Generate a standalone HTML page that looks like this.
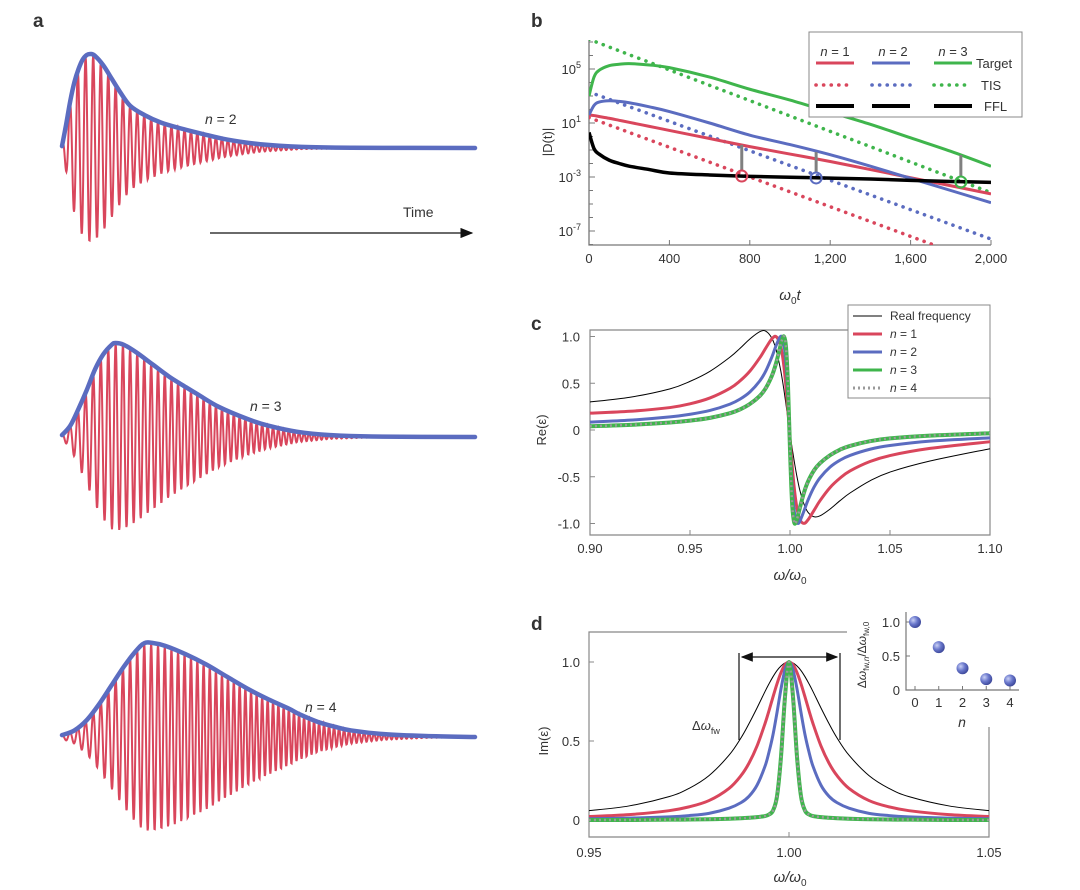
<!DOCTYPE html>
<html><head><meta charset="utf-8"><style>
html,body{margin:0;padding:0;background:#fff;}
svg{display:block;font-family:"Liberation Sans",sans-serif;}
text{fill:#333;}
</style></head><body>
<svg id="fig" width="1080" height="890" viewBox="0 0 1080 890" xmlns="http://www.w3.org/2000/svg">
<defs>
<clipPath id="clipB"><rect x="589" y="40" width="402" height="205"/></clipPath>
<radialGradient id="ball" cx="0.35" cy="0.35" r="0.7"><stop offset="0" stop-color="#c9d0f5"/><stop offset="0.5" stop-color="#6a78cc"/><stop offset="1" stop-color="#3a4597"/></radialGradient>
<marker id="arr" markerWidth="10" markerHeight="8" refX="9" refY="4" orient="auto"><path d="M0,0 L10,4 L0,8 Z" fill="#111"/></marker>
<marker id="arr2" markerWidth="10" markerHeight="8" refX="9" refY="4" orient="auto-start-reverse"><path d="M0,0 L10,4 L0,8 Z" fill="#111"/></marker>
</defs>
<g font-weight="bold" font-size="19">
<text x="33" y="27" fill="#111">a</text>
<text x="531" y="27" fill="#111">b</text>
<text x="531" y="330" fill="#111">c</text>
<text x="531" y="630" fill="#111">d</text>
</g>
<g>
<line x1="210" y1="233" x2="472" y2="233" stroke="#111" stroke-width="1.3" marker-end="url(#arr)"/>
<text x="403" y="217" font-size="14">Time</text>
<text x="205" y="124" font-size="14"><tspan font-style="italic">n</tspan> = 2</text>
<text x="250" y="411" font-size="14"><tspan font-style="italic">n</tspan> = 3</text>
<text x="305" y="712" font-size="14"><tspan font-style="italic">n</tspan> = 4</text>
<g id="aG"></g>
</g>
<g><g id="bG"></g></g>
<g><g id="cG"></g></g>
<g><g id="dG"></g></g>
</svg>
<script>
// ---------- Panel a data ----------
const aRow1T=[0,1,2,3,4,5,6,7,8,10,12,14,16.5,20,24,28.6,34,40,48,58,70,100];
const aRow1Env=[0.02,0.25,0.5,0.7,0.84,0.94,0.99,1.0,0.98,0.88,0.74,0.6,0.45,0.35,0.27,0.21,0.15,0.09,0.04,0.012,0.003,0];
const aRow2T=[0,2,4,6,8,10,12,13,15,18,22,26,30,33,38,45,50,57,65,75,100];
const aRow2Env=[0.02,0.12,0.3,0.5,0.72,0.88,0.98,1.0,0.98,0.9,0.77,0.64,0.53,0.45,0.32,0.19,0.12,0.055,0.02,0.005,0];
const aRow3T=[0,3,6,9,12,15,18,20,22,25,30,35,40,45.5,50,55,57.6,62,66,70,78,88,100];
const aRow3Env=[0.02,0.07,0.18,0.35,0.55,0.75,0.92,1.0,1.0,0.97,0.88,0.77,0.64,0.5,0.4,0.3,0.24,0.16,0.11,0.07,0.03,0.01,0];
// ---------- Panel b data ----------
const bT=[0,25,50,100,150,200,300,400,600,800,1000,1200,1400,1600,1800,2000];
const bTarget1=[1.6,1.55,1.48,1.35,1.2,1.05,0.75,0.45,-0.15,-0.75,-1.3,-1.85,-2.45,-3.05,-3.65,-4.25];
const bTarget2=[1.6,2.3,2.55,2.65,2.6,2.5,2.2,1.85,1.0,0.1,-0.6,-1.35,-2.2,-3.1,-4.0,-4.9];
const bTarget3=[3.0,4.4,4.9,5.25,5.35,5.4,5.3,5.1,4.4,3.5,2.7,1.8,0.9,-0.1,-1.1,-2.2];
const bTIS1=[1.4,1.26,1.13,0.85,0.58,0.3,-0.25,-0.8,-1.9,-3.0,-4.1,-5.2,-6.3,-7.4,-8.5,-9.6];
const bTIS2=[3.3,3.16,3.03,2.76,2.48,2.21,1.67,1.12,0.03,-1.06,-2.15,-3.24,-4.33,-5.42,-6.51,-7.6];
const bTIS3=[7.2,7.06,6.92,6.63,6.35,6.06,5.5,4.93,3.79,2.66,1.52,0.38,-0.75,-1.89,-3.02,-4.16];
const bFFL=[0.3,-0.9,-1.3,-1.75,-2.0,-2.2,-2.45,-2.7,-2.85,-2.95,-3.02,-3.08,-3.15,-3.25,-3.33,-3.4];
const bMarkT=[760,1130,1850];
const bMarkLow=[-2.93,-3.07,-3.37];
const bMarkHigh=[-0.62,-1.15,-1.37];
const bXTicks=[0,400,800,1200,1600,2000];
const bXTickLabels=["0","400","800","1,200","1,600","2,000"];
const bYTicks=[5,1,-3,-7];
const bYTickLabels=["5","1","-3","-7"];
// ---------- Panel c data ----------
const cX=[0.90,0.92,0.94,0.95,0.96,0.97,0.975,0.98,0.985,0.988,0.991,0.993,0.995,0.996,0.997,0.998,0.999,1.000,1.001,1.002,1.003,1.004,1.005,1.007,1.009,1.012,1.015,1.02,1.025,1.03,1.04,1.05,1.07,1.10];
const cReal=[0.3,0.35,0.44,0.52,0.628,0.779,0.873,0.975,1.053,1.055,0.979,0.863,0.675,0.559,0.423,0.273,0.114,-0.043,-0.184,-0.319,-0.444,-0.555,-0.651,-0.793,-0.88,-0.928,-0.918,-0.846,-0.756,-0.674,-0.543,-0.45,-0.332,-0.2];
const cN1=[0.18,0.2,0.24,0.28,0.343,0.446,0.525,0.631,0.776,0.881,0.977,0.999,0.925,0.826,0.672,0.459,0.198,-0.086,-0.36,-0.594,-0.771,-0.892,-0.963,-0.999,-0.961,-0.86,-0.756,-0.616,-0.515,-0.438,-0.337,-0.273,-0.197,-0.125];
const cN2=[0.084,0.105,0.14,0.168,0.209,0.277,0.33,0.408,0.528,0.636,0.784,0.901,0.994,0.992,0.91,0.696,0.325,-0.142,-0.566,-0.843,-0.972,-1.0,-0.973,-0.865,-0.75,-0.612,-0.511,-0.397,-0.323,-0.272,-0.206,-0.166,-0.119,-0.084];
const cN3=[0.04,0.055,0.08,0.1,0.13,0.18,0.22,0.279,0.367,0.452,0.583,0.712,0.88,0.963,0.999,0.887,0.471,-0.212,-0.764,-0.981,-0.987,-0.914,-0.827,-0.669,-0.552,-0.432,-0.355,-0.27,-0.21,-0.17,-0.12,-0.09,-0.06,-0.035];
const cN4=[0.04,0.055,0.08,0.1,0.13,0.18,0.22,0.279,0.367,0.452,0.583,0.712,0.88,0.963,0.999,0.887,0.471,-0.212,-0.764,-0.981,-0.987,-0.914,-0.827,-0.669,-0.552,-0.432,-0.355,-0.27,-0.21,-0.17,-0.12,-0.09,-0.06,-0.035];
const cXTicks=[0.90,0.95,1.00,1.05,1.10];
const cXTickLabels=["0.90","0.95","1.00","1.05","1.10"];
const cYTicks=[1.0,0.5,0,-0.5,-1.0];
const cYTickLabels=["1.0","0.5","0","-0.5","-1.0"];
// ---------- Panel d data ----------
const dX=[0.95,0.96,0.97,0.975,0.98,0.985,0.988,0.99,0.992,0.994,0.995,0.996,0.997,0.998,0.999,1.0,1.001,1.002,1.003,1.004,1.005,1.006,1.008,1.01,1.012,1.015,1.02,1.025,1.03,1.04,1.05];
const dReal=[0.059,0.089,0.148,0.2,0.281,0.41,0.52,0.61,0.709,0.813,0.862,0.907,0.946,0.975,0.994,1,0.994,0.975,0.946,0.907,0.862,0.813,0.709,0.61,0.52,0.41,0.281,0.2,0.148,0.089,0.059];
const dN1=[0.022,0.034,0.059,0.083,0.123,0.2,0.281,0.36,0.468,0.61,0.692,0.779,0.862,0.933,0.983,1,0.983,0.933,0.862,0.779,0.692,0.61,0.468,0.36,0.281,0.2,0.123,0.083,0.059,0.034,0.022];
const dN2=[0.008,0.012,0.02,0.028,0.042,0.075,0.11,0.15,0.22,0.34,0.43,0.54,0.68,0.83,0.95,1,0.95,0.83,0.68,0.54,0.43,0.34,0.22,0.15,0.11,0.075,0.042,0.028,0.02,0.012,0.008];
const dN3=[0,0,0.002,0.003,0.005,0.008,0.011,0.014,0.018,0.025,0.035,0.06,0.15,0.4,0.78,1,0.78,0.4,0.15,0.06,0.035,0.025,0.018,0.014,0.011,0.008,0.005,0.003,0.002,0,0];
const dN4=[0,0,0.002,0.003,0.005,0.008,0.011,0.014,0.018,0.025,0.035,0.06,0.15,0.4,0.78,1,0.78,0.4,0.15,0.06,0.035,0.025,0.018,0.014,0.011,0.008,0.005,0.003,0.002,0,0];
const dXTicks=[0.95,1.00,1.05];
const dXTickLabels=["0.95","1.00","1.05"];
const dYTicks=[1.0,0.5,0];
const dYTickLabels=["1.0","0.5","0"];
const insetN=[0,1,2,3,4];
const insetRatio=[1.0,0.63,0.32,0.16,0.14];
const insetYTicks=[1.0,0.5,0];
const insetYTickLabels=["1.0","0.5","0"];

const NS="http://www.w3.org/2000/svg";
const RED="#d9465c",BLUE="#5b6cc0",GREEN="#3fb54c",GRAY="#9a9a9a";
function mk(parent,tag,attrs){const e=document.createElementNS(NS,tag);for(const k in attrs)e.setAttribute(k,attrs[k]);parent.appendChild(e);return e;}
function interp(xs,ys,x){if(x<=xs[0])return ys[0];for(let i=1;i<xs.length;i++){if(x<=xs[i]){const f=(x-xs[i-1])/(xs[i]-xs[i-1]);return ys[i-1]+f*(ys[i]-ys[i-1]);}}return ys[ys.length-1];}
function smoothPath(pts){let d="M"+pts[0][0].toFixed(2)+","+pts[0][1].toFixed(2);for(let i=0;i<pts.length-1;i++){const p0=pts[Math.max(0,i-1)],p1=pts[i],p2=pts[i+1],p3=pts[Math.min(pts.length-1,i+2)];const c1x=p1[0]+(p2[0]-p0[0])/6,c1y=p1[1]+(p2[1]-p0[1])/6,c2x=p2[0]-(p3[0]-p1[0])/6,c2y=p2[1]-(p3[1]-p1[1])/6;d+=" C"+c1x.toFixed(2)+","+c1y.toFixed(2)+" "+c2x.toFixed(2)+","+c2y.toFixed(2)+" "+p2[0].toFixed(2)+","+p2[1].toFixed(2);}return d;}
function txt(parent,x,y,s,anchor,size){const t=mk(parent,"text",{x:x,y:y,"text-anchor":anchor||"middle","font-size":size||13});t.textContent=s;return t;}

// ---------- Panel a ----------
(function(){
 const g=document.getElementById("aG");
 const rows=[[aRow1T,aRow1Env,148,"n2"],[aRow2T,aRow2Env,437,"n3"],[aRow3T,aRow3Env,737,"n4"]];
 const x0=62,x1=475,amp=94;
 const xOf=t=>x0+(x1-x0)*t/100;
 rows.forEach(r=>{
  const [T,E,base,nm]=r;
  let d="",ph=0;
  for(let x=x0;x<=x1;x+=0.4){
   const t=(x-x0)/(x1-x0)*100;
   const env=interp(T,E,t);
   const period=8-3*Math.min(1,(x-x0)/240);
   const y=base+amp*env*Math.cos(ph+Math.PI);
   d+=(d?" L":"M")+x.toFixed(2)+","+y.toFixed(2);
   ph+=2*Math.PI*0.4/period;
  }
  const red=mk(g,"path",{d:d,fill:"none",stroke:RED,"stroke-width":2});
  
  
  const pts=T.map((t,i)=>[xOf(t),base-amp*E[i]]);
  const blue=mk(g,"path",{d:smoothPath(pts),fill:"none",stroke:BLUE,"stroke-width":4.5,"stroke-linecap":"round"});
  
  
 });
})();

// ---------- Panel b ----------
(function(){
 const g=document.getElementById("bG");
 const xS=t=>589+(991-589)*t/2000;
 const yS=v=>69+(5-v)*13.5;
 const ax=mk(g,"path",{d:"M589,40 L589,245 L991,245",fill:"none",stroke:"#777","stroke-width":1.3});
 
 
 for(let v=-8;v<=7;v++){const tk=mk(g,"line",{x1:589,x2:bYTicks.includes(v)?595:593,y1:yS(v),y2:yS(v),stroke:"#777","stroke-width":1});
  
  }
 bYTicks.forEach((v,i)=>{const t=mk(g,"text",{x:581,y:yS(v)+5,"text-anchor":"end","font-size":13});
  
  
  t.appendChild(document.createTextNode("10"));const s=mk(t,"tspan",{"font-size":9,dy:-6});s.textContent=bYTickLabels[i];});
 bXTicks.forEach((v,i)=>{const tk=mk(g,"line",{x1:xS(v),x2:xS(v),y1:245,y2:240,stroke:"#777"});
  
  
  const t=txt(g,xS(v),263,bXTickLabels[i]);
  
  });
 const xt=mk(g,"text",{x:790,y:300,"text-anchor":"middle","font-size":15,"font-style":"italic"});
 
 
 xt.appendChild(document.createTextNode("ω"));const s0=mk(xt,"tspan",{"font-size":10,dy:4,"font-style":"normal"});s0.textContent="0";const s1=mk(xt,"tspan",{dy:-4});s1.textContent="t";
 const yt=mk(g,"text",{x:0,y:0,"text-anchor":"middle","font-size":13,transform:"translate(552,142) rotate(-90)"});
 yt.textContent="|D(t)|";
 
 
 const cg=mk(g,"g",{"clip-path":"url(#clipB)"});
 const series=[[bTIS1,RED,"dot","tis-n1"],[bTIS2,BLUE,"dot","tis-n2"],[bTIS3,GREEN,"dot","tis-n3"],[bTarget1,RED,"solid","target-n1"],[bTarget2,BLUE,"solid","target-n2"],[bTarget3,GREEN,"solid","target-n3"],[bFFL,"#000","solid","ffl"]];
 series.forEach(s=>{
  const pts=bT.map((t,i)=>[xS(t),yS(s[0][i])]);
  const a={d:smoothPath(pts),fill:"none",stroke:s[1],"stroke-width":s[2]=="dot"?3.2:(s[3]=="ffl"?3.5:3)};
  if(s[2]=="dot"){a["stroke-dasharray"]="0.1 7.5";a["stroke-linecap"]="round";a["stroke-width"]=3.6;}
  const p=mk(cg,"path",a);
  
  
 });
 const mc=[RED,BLUE,GREEN];
 bMarkT.forEach((t,i)=>{
  const l=mk(g,"line",{x1:xS(t),x2:xS(t),y1:yS(bMarkHigh[i]),y2:yS(bMarkLow[i])-5,stroke:"#808080","stroke-width":3});
  
  
  const c=mk(g,"circle",{cx:xS(t),cy:yS(bMarkLow[i]),r:5.5,fill:"none",stroke:mc[i],"stroke-width":2});
  
  
 });
 const lg=mk(g,"g",{});
 
 
 mk(lg,"rect",{x:809,y:32,width:213,height:85,fill:"#fff",stroke:"#888","stroke-width":1});
 [[835,"1"],[893,"2"],[953,"3"]].forEach(h=>{const t=mk(lg,"text",{x:h[0],y:56,"text-anchor":"middle","font-size":13});const n=mk(t,"tspan",{"font-style":"italic"});n.textContent="n";t.appendChild(document.createTextNode(" = "+h[1]));});
 const lx=[[816,854],[872,910],[934,972]];
 const rowsL=[[63,"Target","solid"],[85,"TIS","dot"],[106,"FFL","ffl"]];
 rowsL.forEach(r=>{
  lx.forEach((xx,j)=>{const a={x1:xx[0],x2:xx[1],y1:r[0],y2:r[0],stroke:r[2]=="ffl"?"#000":mc[j],"stroke-width":r[2]=="ffl"?4:3};
   if(r[2]=="dot"){a["stroke-dasharray"]="0.1 7.5";a["stroke-linecap"]="round";a["stroke-width"]=3.6;}
   const ln=mk(lg,"line",a);
   
   });
  const t=txt(lg,r[1]=="Target"?976:(r[1]=="TIS"?981:984),r[0]+5,r[1],"start",13);
  
  
 });
})();

// ---------- Panel c ----------
(function(){
 const g=document.getElementById("cG");
 const xS=x=>590+(x-0.9)*2000;
 const yS=v=>430-v*93.5;
 const box=mk(g,"path",{d:"M848,330 L590,330 L590,535 L990,535 L990,398",fill:"none",stroke:"#888","stroke-width":1.2});
 
 
 cYTicks.forEach((v,i)=>{mk(g,"line",{x1:590,x2:595,y1:yS(v),y2:yS(v),stroke:"#888"});
  const t=txt(g,580,yS(v)+5,cYTickLabels[i],"end",13);
  
  });
 cXTicks.forEach((v,i)=>{mk(g,"line",{x1:xS(v),x2:xS(v),y1:535,y2:530,stroke:"#888"});
  const t=txt(g,xS(v),553,cXTickLabels[i],"middle",13);
  
  });
 const xt=mk(g,"text",{x:790,y:580,"text-anchor":"middle","font-size":15,"font-style":"italic"});
 
 
 xt.appendChild(document.createTextNode("ω/ω"));const s0=mk(xt,"tspan",{"font-size":10,dy:4,"font-style":"normal"});s0.textContent="0";
 const yt=mk(g,"text",{x:0,y:0,"text-anchor":"middle","font-size":13,transform:"translate(546,430) rotate(-90)"});
 yt.textContent="Re(ε)";
 
 
 const series=[[cReal,"#000",1,"real"],[cN1,RED,3,"n1"],[cN2,BLUE,3,"n2"],[cN3,GREEN,4,"n3"],[cN4,GRAY,2.5,"n4"]];
 series.forEach(s=>{
  const pts=cX.map((x,i)=>[xS(x),yS(s[0][i])]);
  const a={d:smoothPath(pts),fill:"none",stroke:s[1],"stroke-width":s[2]};
  if(s[3]=="n4")a["stroke-dasharray"]="2 3";
  const p=mk(g,"path",a);
  
  
 });
 const lg=mk(g,"g",{});
 
 
 mk(lg,"rect",{x:848,y:305,width:142,height:93,fill:"#fff",stroke:"#888","stroke-width":1});
 const items=[[316,"#000",1,"Real frequency",""],[334,RED,3,"1","n"],[352,BLUE,3,"2","n"],[370,GREEN,3,"3","n"],[388,GRAY,3,"4","n"]];
 items.forEach(it=>{
  const a={x1:853,x2:882,y1:it[0],y2:it[0],stroke:it[1],"stroke-width":it[2]};
  if(it[3]=="4")a["stroke-dasharray"]="2 3";
  const ln=mk(lg,"line",a);
  
  
  const t=mk(lg,"text",{x:890,y:it[0]+4,"font-size":12});
  
  
  if(it[4]){const n=mk(t,"tspan",{"font-style":"italic"});n.textContent="n";t.appendChild(document.createTextNode(" = "+it[3]));}
  else t.textContent=it[3];
 });
})();

// ---------- Panel d ----------
(function(){
 const g=document.getElementById("dG");
 const xS=x=>589+(x-0.95)*4000;
 const yS=v=>820-v*158;
 const box=mk(g,"path",{d:"M847,632 L589,632 L589,837 L989,837 L989,727",fill:"none",stroke:"#888","stroke-width":1.2});
 
 
 dYTicks.forEach((v,i)=>{mk(g,"line",{x1:589,x2:594,y1:yS(v),y2:yS(v),stroke:"#888"});
  const t=txt(g,580,yS(v)+5,dYTickLabels[i],"end",13);
  
  });
 dXTicks.forEach((v,i)=>{mk(g,"line",{x1:xS(v),x2:xS(v),y1:837,y2:832,stroke:"#888"});
  const t=txt(g,xS(v),857,dXTickLabels[i],"middle",13);
  
  });
 const xt=mk(g,"text",{x:790,y:882,"text-anchor":"middle","font-size":15,"font-style":"italic"});
 
 
 xt.appendChild(document.createTextNode("ω/ω"));const s0=mk(xt,"tspan",{"font-size":10,dy:4,"font-style":"normal"});s0.textContent="0";
 const yt=mk(g,"text",{x:0,y:0,"text-anchor":"middle","font-size":13,transform:"translate(548,741) rotate(-90)"});
 yt.textContent="Im(ε)";
 
 
 const series=[[dReal,"#000",1,"real"],[dN1,RED,3,"n1"],[dN2,BLUE,3,"n2"],[dN3,GREEN,4,"n3"],[dN4,GRAY,2.5,"n4"]];
 series.forEach(s=>{
  const pts=dX.map((x,i)=>[xS(x),yS(s[0][i])]);
  const a={d:smoothPath(pts),fill:"none",stroke:s[1],"stroke-width":s[2]};
  if(s[3]=="n4")a["stroke-dasharray"]="2 3";
  const p=mk(g,"path",a);
  
  
 });
 const v1=mk(g,"line",{x1:739,x2:739,y1:653,y2:740,stroke:"#111","stroke-width":1.2});
 
 
 const v2=mk(g,"line",{x1:840,x2:840,y1:653,y2:740,stroke:"#111","stroke-width":1.2});
 
 
 const ar=mk(g,"line",{x1:742,x2:837,y1:657,y2:657,stroke:"#111","stroke-width":1.2,"marker-start":"url(#arr2)","marker-end":"url(#arr2)"});
 
 
 const fl=mk(g,"text",{x:692,y:730,"font-size":13});
 
 
 fl.appendChild(document.createTextNode("Δ"));const om=mk(fl,"tspan",{"font-style":"italic"});om.textContent="ω";const sb=mk(fl,"tspan",{"font-size":9,dy:4});sb.textContent="fw";
 // inset
 const ig=mk(g,"g",{});
 
 
 mk(ig,"rect",{x:849,y:598,width:175,height:128,fill:"#fff"});
 const ixS=n=>915+n*23.75;
 const iyS=v=>690-v*68;
 const iax=mk(ig,"path",{d:"M906,612 L906,690 L1019,690",fill:"none",stroke:"#777","stroke-width":1.2});
 
 
 insetYTicks.forEach((v,i)=>{mk(ig,"line",{x1:906,x2:910,y1:iyS(v),y2:iyS(v),stroke:"#777"});
  const t=txt(ig,900,iyS(v)+5,insetYTickLabels[i],"end",13);
  
  });
 insetN.forEach(n=>{mk(ig,"line",{x1:ixS(n),x2:ixS(n),y1:690,y2:686,stroke:"#777"});
  const t=txt(ig,ixS(n),707,String(n),"middle",13);
  
  });
 const nt=mk(ig,"text",{x:962,y:727,"text-anchor":"middle","font-size":14,"font-style":"italic"});
 nt.textContent="n";
 
 
 const it=mk(ig,"text",{x:0,y:0,"text-anchor":"middle","font-size":12,transform:"translate(866,655) rotate(-90)"});
 
 
 it.appendChild(document.createTextNode("Δ"));let a1=mk(it,"tspan",{"font-style":"italic"});a1.textContent="ω";let a2=mk(it,"tspan",{"font-size":8,dy:3});a2.textContent="fw,";let a3=mk(it,"tspan",{"font-size":8,"font-style":"italic"});a3.textContent="n";let a4=mk(it,"tspan",{dy:-3});a4.textContent="/Δ";let a5=mk(it,"tspan",{"font-style":"italic"});a5.textContent="ω";let a6=mk(it,"tspan",{"font-size":8,dy:3});a6.textContent="fw,0";
 insetN.forEach((n,i)=>{const c=mk(ig,"circle",{cx:ixS(n),cy:iyS(insetRatio[i]),r:6,fill:"url(#ball)"});
  
  });
})();
</script>
</body></html>
